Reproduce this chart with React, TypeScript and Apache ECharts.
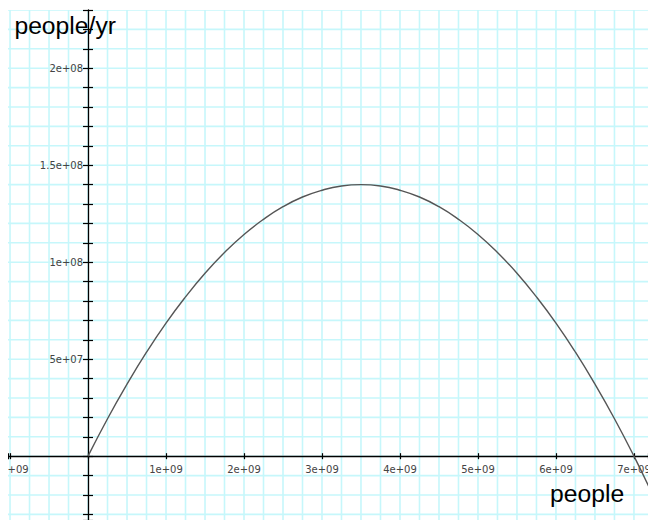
import React, { useEffect, useRef } from 'react';
import * as echarts from 'echarts';

// Population (people) and growth rate (people/yr)
const population = [
  0, 0.25e9, 0.5e9, 0.75e9, 1e9, 1.25e9, 1.5e9, 1.75e9, 2e9, 2.25e9,
  2.5e9, 2.75e9, 3e9, 3.25e9, 3.5e9, 3.75e9, 4e9, 4.25e9, 4.5e9, 4.75e9,
  5e9, 5.25e9, 5.5e9, 5.75e9, 6e9, 6.25e9, 6.5e9, 6.75e9, 7e9, 7.25e9,
];
const growthRate = [
  0, 1.93e7, 3.71e7, 5.36e7, 6.86e7, 8.21e7, 9.43e7, 1.05e8, 1.143e8, 1.221e8,
  1.286e8, 1.336e8, 1.371e8, 1.393e8, 1.4e8, 1.393e8, 1.371e8, 1.336e8, 1.286e8, 1.221e8,
  1.143e8, 1.05e8, 9.43e7, 8.21e7, 6.86e7, 5.36e7, 3.71e7, 1.93e7, 0, -2.07e7,
];

const xTickValues = [-1e9, 1e9, 2e9, 3e9, 4e9, 5e9, 6e9, 7e9];
const xTickLabels = ['-1e+09', '1e+09', '2e+09', '3e+09', '4e+09', '5e+09', '6e+09', '7e+09'];
const yTickValues = [5e7, 1e8, 1.5e8, 2e8];
const yTickLabels = ['5e+07', '1e+08', '1.5e+08', '2e+08'];

const yTitle = 'people/yr';
const xTitle = 'people';

const XMIN = -1.026e9;
const XMAX = 7.18e9;
const YMIN = -3.29e7;
const YMAX = 2.3e8;

// grid-paper spacing
const X_GRID_STEP = 0.25e9;
const Y_GRID_STEP = 1e7;

// plot box inside the 640x512 chart div
const GRID_TOP = 2;
const GRID_BOTTOM = 0;
const GRID_LEFT = 0;
const GRID_RIGHT = 0;
const CHART_W = 640;
const CHART_H = 512;

function lookup(values: number[], labels: string[], v: number): string {
  for (let i = 0; i < values.length; i++) {
    if (Math.abs(v - values[i]) < Math.abs(values[i]) * 1e-6) return labels[i];
  }
  return '';
}

function gridValues(min: number, max: number, step: number): number[] {
  const out: number[] = [];
  for (let k = Math.ceil(min / step); k * step <= max; k++) out.push(k * step);
  return out;
}

const GRID_COLOR = '#c6f7fb';
const AXIS_COLOR = '#000';
const LABEL_FONT = { color: '#444', fontFamily: 'DejaVu Sans', fontSize: 10 };

export default function App() {
  const ref = useRef<HTMLDivElement>(null);

  useEffect(() => {
    if (!ref.current) return;
    const chart = echarts.init(ref.current, undefined, { renderer: 'svg' });

    const plotW = CHART_W - GRID_LEFT - GRID_RIGHT;
    const plotH = CHART_H - GRID_TOP - GRID_BOTTOM;
    const zeroFromLeft = ((0 - XMIN) / (XMAX - XMIN)) * plotW;
    const zeroFromTop = ((YMAX - 0) / (YMAX - YMIN)) * plotH;

    // [value, direction] : 0 = vertical line at x value, 1 = horizontal line at y value
    const gridData: number[][] = [];
    gridValues(XMIN, XMAX, X_GRID_STEP).forEach((v) => gridData.push([v, 0]));
    gridValues(YMIN, YMAX, Y_GRID_STEP).forEach((v) => gridData.push([v, 1]));

    const noGridLine = { show: false };

    chart.setOption({
      animation: false,
      grid: {
        left: GRID_LEFT,
        right: GRID_RIGHT,
        top: GRID_TOP,
        bottom: GRID_BOTTOM,
        containLabel: false,
        outerBoundsMode: 'none',
      },
      xAxis: [
        {
          type: 'value',
          min: XMIN,
          max: XMAX,
          minInterval: 1e9,
          maxInterval: 1e9,
          position: 'bottom',
          offset: -(plotH - zeroFromTop),
          z: 3,
          axisLine: { show: true, onZero: false, lineStyle: { color: AXIS_COLOR, width: 1.3 } },
          axisTick: { show: true, length: 3, lineStyle: { color: AXIS_COLOR, width: 1.2 } },
          axisLabel: {
            ...LABEL_FONT,
            margin: 8,
            showMinLabel: true,
            showMaxLabel: true,
            hideOverlap: false,
            formatter: (v: number) => lookup(xTickValues, xTickLabels, v),
          },
          splitLine: noGridLine,
          minorSplitLine: { show: false },
        },
        {
          type: 'value',
          min: XMIN,
          max: XMAX,
          minInterval: 1e9,
          maxInterval: 1e9,
          position: 'top',
          offset: -zeroFromTop,
          z: 3,
          axisLine: { show: false, onZero: false },
          axisTick: { show: true, length: 3, lineStyle: { color: AXIS_COLOR, width: 1.2 } },
          axisLabel: { show: false },
          splitLine: noGridLine,
          minorSplitLine: { show: false },
        },
      ],
      yAxis: [
        {
          type: 'value',
          min: YMIN,
          max: YMAX,
          minInterval: 1e7,
          maxInterval: 1e7,
          position: 'left',
          offset: -zeroFromLeft,
          z: 3,
          axisLine: { show: true, onZero: false, lineStyle: { color: AXIS_COLOR, width: 1.3 } },
          axisTick: { show: true, length: 5, lineStyle: { color: AXIS_COLOR, width: 1.2 } },
          axisLabel: {
            ...LABEL_FONT,
            margin: 5,
            showMinLabel: true,
            showMaxLabel: true,
            hideOverlap: false,
            formatter: (v: number) => lookup(yTickValues, yTickLabels, v),
          },
          splitLine: noGridLine,
          minorSplitLine: { show: false },
        },
        {
          type: 'value',
          min: YMIN,
          max: YMAX,
          minInterval: 1e7,
          maxInterval: 1e7,
          position: 'right',
          offset: -(plotW - zeroFromLeft),
          z: 3,
          axisLine: { show: false, onZero: false },
          axisTick: { show: true, length: 5, lineStyle: { color: AXIS_COLOR, width: 1.2 } },
          axisLabel: { show: false },
          splitLine: noGridLine,
          minorSplitLine: { show: false },
        },
      ],
      graphic: [
        {
          type: 'text',
          x: 6.4,
          y: 17.4,
          z: 10,
          style: {
            text: yTitle,
            fill: '#000',
            fontFamily: 'Liberation Sans',
            fontSize: 24.7,
            verticalAlign: 'middle',
            align: 'left',
          },
        },
        {
          type: 'text',
          x: 542,
          y: 485.9,
          z: 10,
          style: {
            text: xTitle,
            fill: '#000',
            fontFamily: 'Liberation Sans',
            fontSize: 24.7,
            verticalAlign: 'middle',
            align: 'left',
          },
        },
      ],
      series: [
        {
          type: 'custom',
          coordinateSystem: 'cartesian2d',
          xAxisIndex: 0,
          yAxisIndex: 0,
          silent: true,
          z: 1,
          clip: true,
          encode: { x: -1, y: -1 },
          data: gridData,
          renderItem: (params: any, api: any) => {
            const v = api.value(0);
            const dir = api.value(1);
            const a = dir === 0 ? api.coord([v, YMAX]) : api.coord([XMIN, v]);
            const b = dir === 0 ? api.coord([v, YMIN]) : api.coord([XMAX, v]);
            return {
              type: 'line',
              shape: { x1: a[0], y1: a[1], x2: b[0], y2: b[1] },
              style: { stroke: GRID_COLOR, lineWidth: 1.6 },
            };
          },
        },
        {
          type: 'line',
          xAxisIndex: 0,
          yAxisIndex: 0,
          data: population.map((p, i) => [p, growthRate[i]]),
          smooth: true,
          showSymbol: false,
          symbol: 'none',
          z: 5,
          lineStyle: { color: '#555', width: 1.4 },
        },
      ],
    });
    return () => chart.dispose();
  }, []);

  return (
    <div
      ref={ref}
      style={{ position: 'absolute', left: 8, top: 8, width: CHART_W, height: CHART_H }}
    />
  );
}
